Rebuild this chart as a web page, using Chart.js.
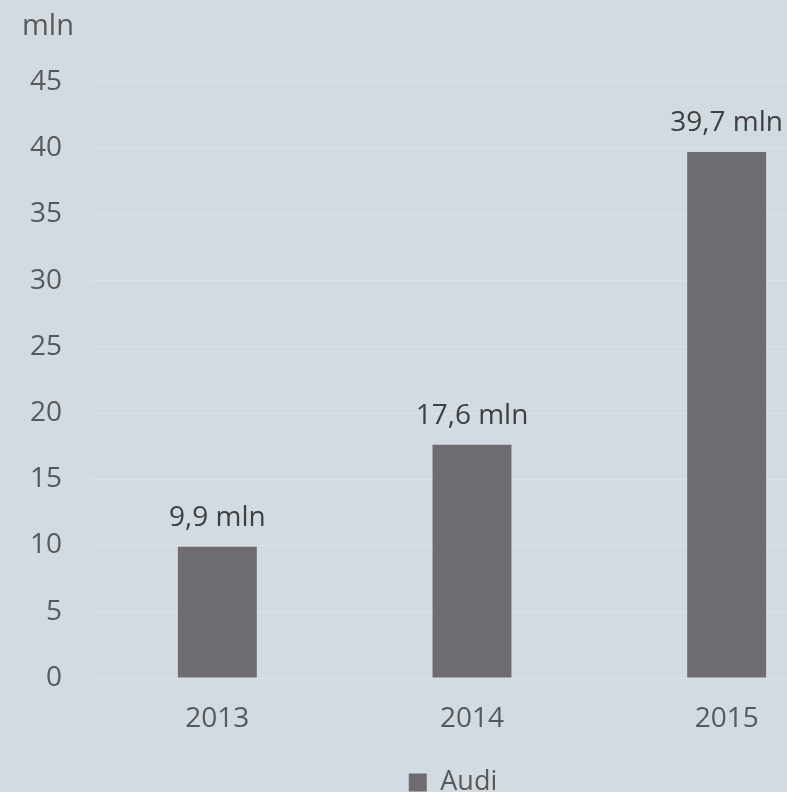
<!DOCTYPE html>
<html>
<head>
    <meta charset="utf-8">
    <script src="https://cdn.jsdelivr.net/npm/chart.js"></script>
    <style>
        * { margin: 0; padding: 0; }
        body {
            background: #d3dbe2;
            overflow: hidden;
            width: 787px;
            height: 792px;
        }
        .chartBox {
            width: 906px;
            height: 806px;
        }
    </style>
</head>
<body>
    <div class="chartBox">
        <canvas id="chart"></canvas>
    </div>
<script>
    const years = ['2013', '2014', '2015'];
    const audi = [9.9, 17.6, 39.7];
    const valueLabels = ['9,9 mln', '17,6 mln', '39,7 mln'];

    const textColor = '#595959';

    // writes the value text above each bar
    const barLabels = {
        id: 'barLabels',
        afterDatasetsDraw(chart) {
            const ctx = chart.ctx;
            const meta = chart.getDatasetMeta(0);
            ctx.save();
            ctx.font = '28px "Open Sans"';
            ctx.fillStyle = '#404040';
            ctx.textAlign = 'center';
            ctx.textBaseline = 'middle';
            meta.data.forEach((bar, i) => {
                ctx.fillText(valueLabels[i], bar.x, bar.y - 29);
            });
            ctx.restore();
        }
    };

    // legend sits centred under the plot rather than the whole canvas
    const legendShift = {
        id: 'legendShift',
        afterLayout(chart) {
            chart.legend.left += 15;
            chart.legend.right += 15;
        }
    };

    const config = {
        type: 'bar',
        data: {
            labels: years,
            datasets: [{
                label: 'Audi',
                data: audi,
                backgroundColor: '#6e6c71',
                borderWidth: 0,
                barPercentage: 0.31,
                categoryPercentage: 1
            }]
        },
        options: {
            responsive: true,
            maintainAspectRatio: false,
            animation: false,
            layout: {
                padding: { left: 22, right: 52, top: 0, bottom: 0 }
            },
            plugins: {
                title: {
                    display: true,
                    text: 'mln',
                    align: 'start',
                    color: textColor,
                    font: { family: 'Open Sans', size: 29, weight: 'normal' },
                    padding: { top: 9, bottom: 38 }
                },
                legend: {
                    position: 'bottom',
                    labels: {
                        color: textColor,
                        boxWidth: 18,
                        boxHeight: 18,
                        padding: 10,
                        font: { family: 'Open Sans', size: 27 }
                    }
                },
                tooltip: { enabled: false }
            },
            scales: {
                x: {
                    afterFit(scale) { scale.height = 81; },
                    grid: { display: false, drawTicks: false },
                    border: { display: false },
                    ticks: {
                        color: textColor,
                        padding: 24,
                        font: { family: 'Open Sans', size: 28 }
                    }
                },
                y: {
                    min: 0,
                    max: 45,
                    afterFit(scale) { scale.width = 68; },
                    grid: { color: '#dfe0df', lineWidth: 1, drawTicks: false },
                    border: { display: false },
                    ticks: {
                        stepSize: 5,
                        color: textColor,
                        padding: 28,
                        font: { family: 'Open Sans', size: 28 }
                    }
                }
            }
        },
        plugins: [barLabels, legendShift]
    };

    const chart = new Chart(document.getElementById('chart'), config);
</script>
</body>
</html>
